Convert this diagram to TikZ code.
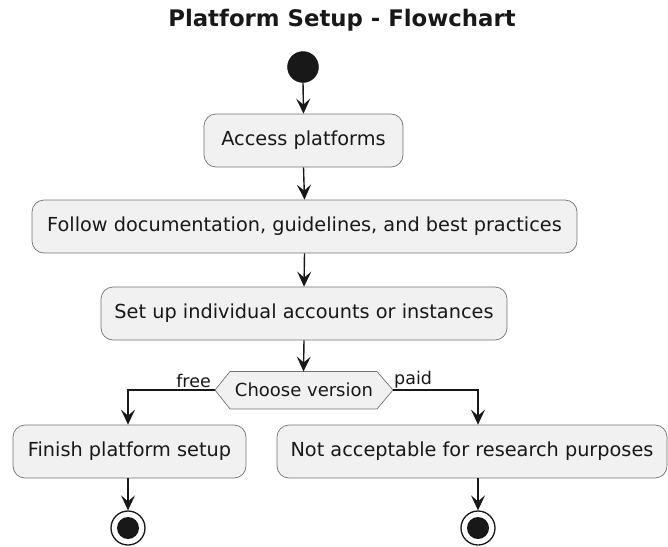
\documentclass[tikz,border=0pt]{standalone}
\usepackage{fontspec}
\setmainfont{DejaVu Sans}
\usetikzlibrary{arrows.meta}
\definecolor{boxfill}{HTML}{F1F1F1}
\definecolor{ink}{HTML}{181818}
\tikzset{
  actbox/.style={draw=black!55, line width=0.7pt, fill=boxfill, rounded corners=12pt,
    inner sep=0pt, minimum height=53pt, font=\fontsize{19.3}{22}\selectfont, text=ink},
  flow/.style={draw=ink, line width=1.4pt, -{Stealth[length=15pt,width=14pt,inset=6pt]}},
  lbl/.style={font=\fontsize{17.5}{20}\selectfont, text=ink, inner sep=1pt},
  startdot/.style={circle, fill=ink, draw=ink, minimum size=31pt, inner sep=0pt},
  enddot/.style={circle, draw=ink, line width=1.3pt, fill=white, minimum size=34pt, inner sep=0pt},
}
\begin{document}
\begin{tikzpicture}[x=1pt,y=-1pt]
\useasboundingbox (0,0) rectangle (668,546);
\node[font=\bfseries\fontsize{22.8}{26}\selectfont, text=ink] (title) at (342,20) {Platform Setup - Flowchart};
\node[startdot] (start) at (303,67) {};
\node[actbox, minimum width=199pt] (access) at (303.5,140.5) {Access platforms};
\node[actbox, minimum width=545pt] (follow) at (304.5,226.5) {Follow documentation, guidelines, and best practices};
\node[actbox, minimum width=406pt] (setup) at (304,313.5) {Set up individual accounts or instances};
% decision hexagon
\draw[draw=black!55, line width=0.7pt, fill=boxfill] (215,390) -- (230,371.5) -- (377,371.5) -- (393,390) -- (377,409) -- (230,409) -- cycle;
\node[font=\fontsize{18}{20}\selectfont, text=ink] (choose) at (304,390) {Choose version};
\coordinate (chT) at (303.5,371.5);
\coordinate (chL) at (215,390);
\coordinate (chR) at (393,390);
\node[actbox, minimum width=233pt] (finish) at (129.5,451.5) {Finish platform setup};
\node[actbox, minimum width=390pt] (notacc) at (472,451.5) {Not acceptable for research purposes};
\node[enddot] (end1) at (128,528) {};
\node[circle, fill=ink, minimum size=22pt, inner sep=0pt] (end1i) at (128,528) {};
\node[enddot] (end2) at (478,528) {};
\node[circle, fill=ink, minimum size=22pt, inner sep=0pt] (end2i) at (478,528) {};
% connectors
\draw[flow] (start.south) -- (access.north);
\draw[flow] (access.south) -- (follow.north);
\draw[flow] (follow.south) -- (setup.north);
\draw[flow] (setup.south) -- (chT);
\draw[flow] (chL) -| (finish.north -| end1);
\draw[flow] (chR) -| (notacc.north -| end2);
\draw[flow] (finish.south -| end1) -- (end1.north);
\draw[flow] (notacc.south -| end2) -- (end2.north);
\node[lbl, anchor=south east] (free) at (212,389) {free};
\node[lbl, anchor=south west] (paid) at (393,389) {paid};
\end{tikzpicture}
\end{document}
